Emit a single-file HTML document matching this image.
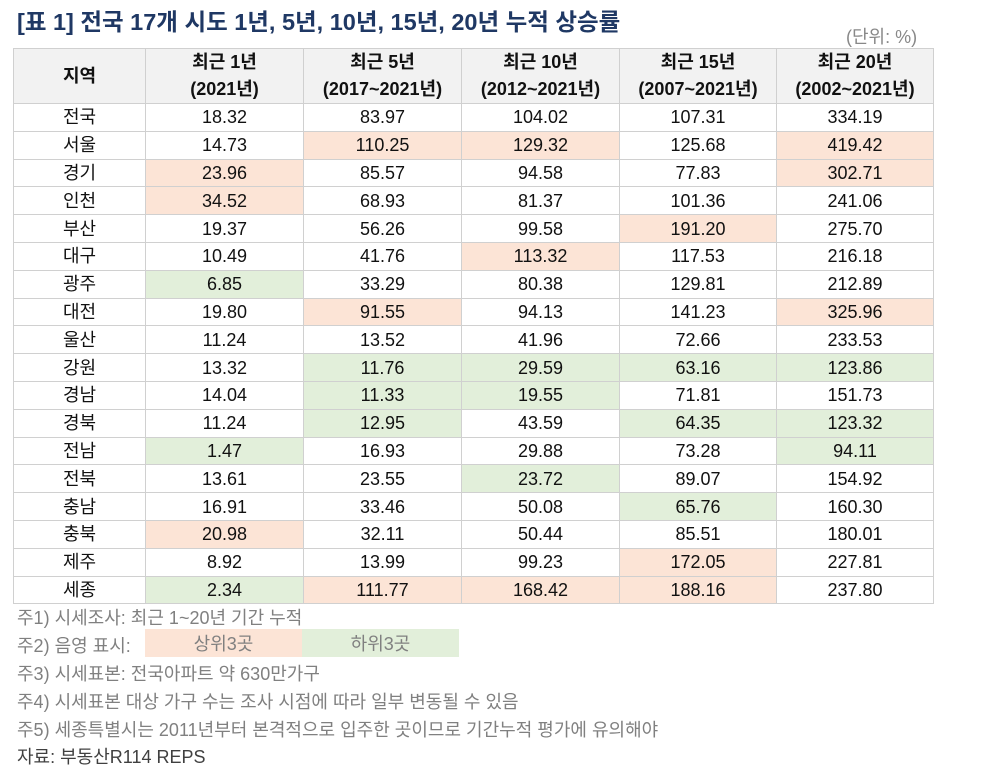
<!DOCTYPE html>
<html><head><meta charset="utf-8"><style>
body{margin:0;width:1002px;height:764px;background:#fff;font-family:"Liberation Sans","Noto Sans CJK KR",sans-serif;position:relative;overflow:hidden}
.t{position:absolute;left:17px;top:3px;font-size:23.5px;font-weight:bold;color:#1f3864}
.u{position:absolute;left:846px;top:23px;font-size:18px;color:#888}
table{position:absolute;left:13px;top:48px;border-collapse:collapse;table-layout:fixed}
td,th{border:1px solid #d0d0d0;text-align:center;font-size:18px;color:#111;padding:0;height:26.8px;line-height:26px}
th{background:#f2f2f2;font-weight:bold;height:54px;line-height:27px}
.p{background:#fce4d6}.g{background:#e2efda}
.n{position:absolute;left:17px;font-size:18px;color:#808080}
.lg{position:absolute;top:629px;height:28px;width:157px;text-align:center;line-height:30px;font-size:18px;color:#808080}
</style></head><body>
<div class="t">[표 1] 전국 17개 시도 1년, 5년, 10년, 15년, 20년 누적 상승률</div>
<div class="u">(단위: %)</div>
<table>
<colgroup><col style="width:132px"><col style="width:158px"><col style="width:158px"><col style="width:158px"><col style="width:157px"><col style="width:157px"></colgroup>
<tr><th>지역</th><th>최근 1년<br>(2021년)</th><th>최근 5년<br>(2017~2021년)</th><th>최근 10년<br>(2012~2021년)</th><th>최근 15년<br>(2007~2021년)</th><th>최근 20년<br>(2002~2021년)</th></tr>
<tr><td>전국</td><td>18.32</td><td>83.97</td><td>104.02</td><td>107.31</td><td>334.19</td></tr>
<tr><td>서울</td><td>14.73</td><td class="p">110.25</td><td class="p">129.32</td><td>125.68</td><td class="p">419.42</td></tr>
<tr><td>경기</td><td class="p">23.96</td><td>85.57</td><td>94.58</td><td>77.83</td><td class="p">302.71</td></tr>
<tr><td>인천</td><td class="p">34.52</td><td>68.93</td><td>81.37</td><td>101.36</td><td>241.06</td></tr>
<tr><td>부산</td><td>19.37</td><td>56.26</td><td>99.58</td><td class="p">191.20</td><td>275.70</td></tr>
<tr><td>대구</td><td>10.49</td><td>41.76</td><td class="p">113.32</td><td>117.53</td><td>216.18</td></tr>
<tr><td>광주</td><td class="g">6.85</td><td>33.29</td><td>80.38</td><td>129.81</td><td>212.89</td></tr>
<tr><td>대전</td><td>19.80</td><td class="p">91.55</td><td>94.13</td><td>141.23</td><td class="p">325.96</td></tr>
<tr><td>울산</td><td>11.24</td><td>13.52</td><td>41.96</td><td>72.66</td><td>233.53</td></tr>
<tr><td>강원</td><td>13.32</td><td class="g">11.76</td><td class="g">29.59</td><td class="g">63.16</td><td class="g">123.86</td></tr>
<tr><td>경남</td><td>14.04</td><td class="g">11.33</td><td class="g">19.55</td><td>71.81</td><td>151.73</td></tr>
<tr><td>경북</td><td>11.24</td><td class="g">12.95</td><td>43.59</td><td class="g">64.35</td><td class="g">123.32</td></tr>
<tr><td>전남</td><td class="g">1.47</td><td>16.93</td><td>29.88</td><td>73.28</td><td class="g">94.11</td></tr>
<tr><td>전북</td><td>13.61</td><td>23.55</td><td class="g">23.72</td><td>89.07</td><td>154.92</td></tr>
<tr><td>충남</td><td>16.91</td><td>33.46</td><td>50.08</td><td class="g">65.76</td><td>160.30</td></tr>
<tr><td>충북</td><td class="p">20.98</td><td>32.11</td><td>50.44</td><td>85.51</td><td>180.01</td></tr>
<tr><td>제주</td><td>8.92</td><td>13.99</td><td>99.23</td><td class="p">172.05</td><td>227.81</td></tr>
<tr><td>세종</td><td class="g">2.34</td><td class="p">111.77</td><td class="p">168.42</td><td class="p">188.16</td><td>237.80</td></tr>
</table>
<div class="n" style="top:604px">주1) 시세조사: 최근 1~20년 기간 누적</div>
<div class="n" style="top:632px">주2) 음영 표시:</div>
<div class="lg" style="left:145px;background:#fce4d6">상위3곳</div>
<div class="lg" style="left:302px;background:#e2efda">하위3곳</div>
<div class="n" style="top:660px">주3) 시세표본: 전국아파트 약 630만가구</div>
<div class="n" style="top:688px">주4) 시세표본 대상 가구 수는 조사 시점에 따라 일부 변동될 수 있음</div>
<div class="n" style="top:716px">주5) 세종특별시는 2011년부터 본격적으로 입주한 곳이므로 기간누적 평가에 유의해야</div>
<div class="n" style="top:743px;color:#404040">자료: 부동산R114 REPS</div>
</body></html>
